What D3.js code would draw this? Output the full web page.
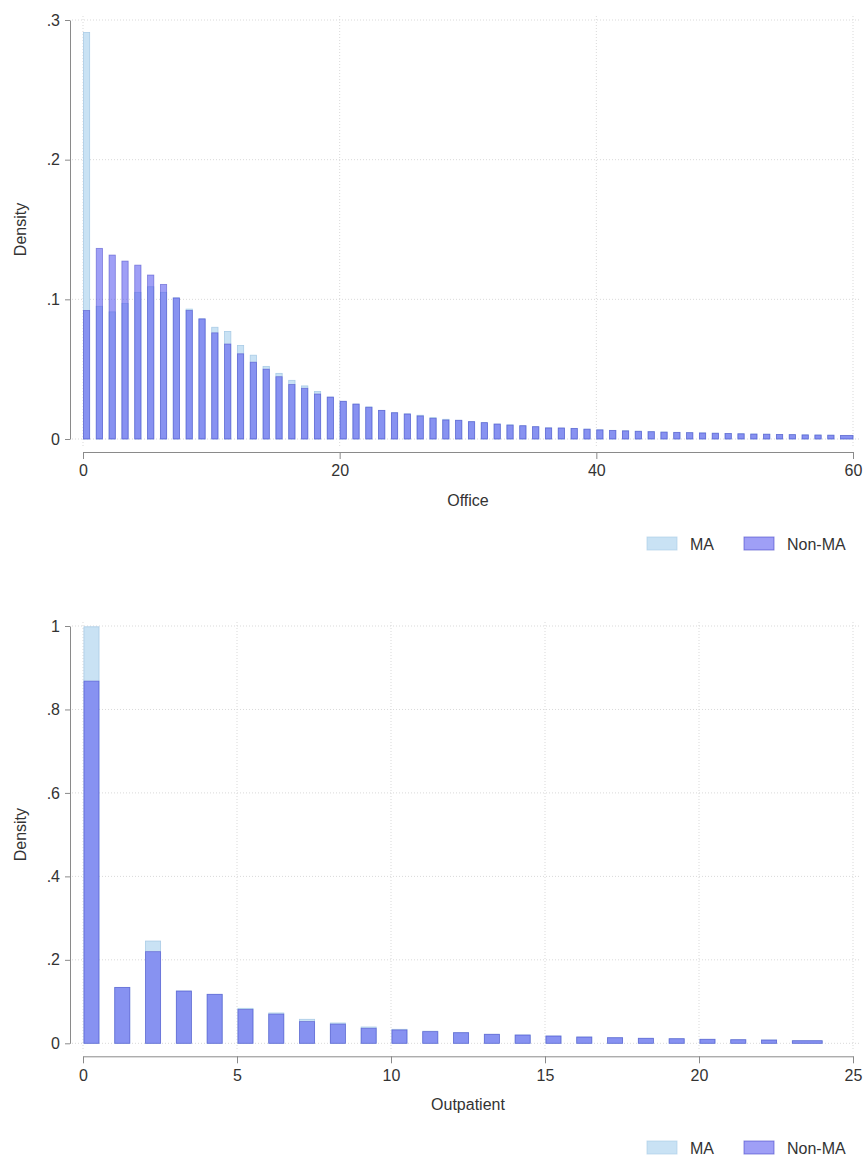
<!DOCTYPE html>
<html>
<head>
<meta charset="utf-8">
<script src="https://cdn.jsdelivr.net/npm/d3@7"></script>
<style>
  body { margin: 0; background: #fff; }
  svg { display: block; font-family: "Liberation Sans", Arial, sans-serif; }
  .grid line { stroke: #d9d9d9; stroke-dasharray: 1,2; }
  .axis path, .axis line { stroke: #8a8a8a; }
  .axis text { fill: #333; font-size: 16px; }
  .title { fill: #333; font-size: 16px; }
</style>
</head>
<body>
<svg id="chart" width="867" height="1161"></svg>
<script>
// Office visits histogram (density per visit count 0..59)
let officeBins = d3.range(0, 60);
let officeMA = [0.291, 0.095, 0.091, 0.097, 0.105, 0.109, 0.105, 0.101, 0.093, 0.086,
  0.080, 0.077, 0.067, 0.060, 0.052, 0.047, 0.042, 0.038, 0.034, 0.030,
  0.027, 0.025, 0.023, 0.0205, 0.0188, 0.018, 0.017, 0.0153, 0.0141, 0.0134,
  0.0124, 0.0117, 0.0107, 0.0102, 0.0095, 0.0088, 0.0080, 0.0078, 0.0076, 0.0071,
  0.0066, 0.0062, 0.0059, 0.0056, 0.0053, 0.0050, 0.0048, 0.0046, 0.0044, 0.0042,
  0.0040, 0.0038, 0.0036, 0.0035, 0.0033, 0.0032, 0.0030, 0.0029, 0.0028, 0.0026];
let officeNonMA = [0.092, 0.1365, 0.1317, 0.1274, 0.1245, 0.1174, 0.1107, 0.101, 0.092, 0.086,
  0.076, 0.068, 0.061, 0.055, 0.050, 0.0446, 0.039, 0.0363, 0.0322, 0.030,
  0.027, 0.025, 0.0227, 0.0205, 0.0188, 0.0179, 0.0165, 0.0148, 0.0136, 0.0134,
  0.0124, 0.0117, 0.0107, 0.0099, 0.0095, 0.0088, 0.0079, 0.0079, 0.0076, 0.0070,
  0.0065, 0.0061, 0.0058, 0.0055, 0.0052, 0.0049, 0.0047, 0.0045, 0.0043, 0.0041,
  0.0039, 0.0037, 0.0035, 0.0034, 0.0032, 0.0031, 0.0029, 0.0028, 0.0027, 0.0025];

// Outpatient visits histogram (0..23)
let outBins = d3.range(0, 24);
let outMA = [0.998, 0.134, 0.245, 0.1253, 0.1174, 0.0838, 0.0726, 0.0575, 0.0486, 0.039,
  0.0335, 0.0290, 0.0254, 0.0216, 0.0199, 0.0175, 0.0151, 0.0134, 0.0120, 0.0110,
  0.0096, 0.0086, 0.0079, 0.0062];
let outNonMA = [0.868, 0.134, 0.2196, 0.1253, 0.1174, 0.081, 0.070, 0.052, 0.046, 0.036,
  0.032, 0.028, 0.0254, 0.0216, 0.0199, 0.0175, 0.0151, 0.0134, 0.0120, 0.0110,
  0.0096, 0.0086, 0.0079, 0.0062];

let officeXTicks = [0, 20, 40, 60];
let officeYTicks = [0, 0.1, 0.2, 0.3];
let outXTicks = [0, 5, 10, 15, 20, 25];
let outYTicks = [0, 0.2, 0.4, 0.6, 0.8, 1];
let legendLabels = ["MA", "Non-MA"];

let maFill = "#c9e2f4", maStroke = "#a9cbe6";
let nonFill = "#5050ee", nonStroke = "#4646c8", nonOpacity = 0.55;

let svg = d3.select("#chart");

let stataFmt = d => d === 0 ? "0" : (d === 1 ? "1" : d3.format(".1f")(d).replace(/^0/, ""));

let drawPanel = function (cfg) {
    let g = svg.append("g");
    let x = d3.scaleLinear().domain(cfg.xDomain).range([83, 853]);
    let y = d3.scaleLinear().domain(cfg.yDomain).range([cfg.y0, cfg.y1]);

    // grid
    let grid = g.append("g").attr("class", "grid");
    grid.selectAll(".h").data(cfg.yTicks).join("line")
        .attr("x1", 72).attr("x2", 860)
        .attr("y1", d => y(d)).attr("y2", d => y(d));
    grid.selectAll(".v").data(cfg.xTicks).join("line")
        .attr("x1", d => x(d)).attr("x2", d => x(d))
        .attr("y1", cfg.y1 - 4).attr("y2", cfg.y0 + 8);

    let last = cfg.bins.length - 1;
    let left = (d, i) => x(d + 0.03);
    let right = (d, i) => i === last ? x(d + 1) : x(d + 0.52);

    // MA bars
    g.append("g").selectAll("rect").data(cfg.bins).join("rect")
        .attr("x", left)
        .attr("width", (d, i) => right(d, i) - left(d, i))
        .attr("y", (d, i) => y(cfg.ma[i]))
        .attr("height", (d, i) => y(0) - y(cfg.ma[i]))
        .attr("fill", maFill).attr("stroke", maStroke).attr("stroke-width", 0.8);

    // Non-MA bars, translucent on top
    g.append("g").selectAll("rect").data(cfg.bins).join("rect")
        .attr("x", left)
        .attr("width", (d, i) => right(d, i) - left(d, i))
        .attr("y", (d, i) => y(cfg.non[i]))
        .attr("height", (d, i) => y(0) - y(cfg.non[i]))
        .attr("fill", nonFill).attr("fill-opacity", nonOpacity)
        .attr("stroke", nonStroke).attr("stroke-opacity", 0.6).attr("stroke-width", 0.8);

    // axes
    g.append("g").attr("class", "axis")
        .attr("transform", "translate(70,0)")
        .call(d3.axisLeft(y).tickValues(cfg.yTicks).tickFormat(stataFmt)
            .tickSize(5).tickSizeOuter(0).tickPadding(5));
    g.append("g").attr("class", "axis")
        .attr("transform", `translate(0,${cfg.y0 + 13})`)
        .call(d3.axisBottom(x).tickValues(cfg.xTicks).tickFormat(d3.format("d"))
            .tickSize(7).tickSizeOuter(0).tickPadding(6));

    g.append("text").attr("class", "title")
        .attr("transform", `translate(26,${(cfg.y0 + cfg.y1) / 2}) rotate(-90)`)
        .attr("text-anchor", "middle").text("Density");
    g.append("text").attr("class", "title")
        .attr("x", 468).attr("y", cfg.y0 + 67)
        .attr("text-anchor", "middle").text(cfg.xLabel);

    // legend
    let leg = g.append("g").attr("transform", `translate(0,${cfg.legendY})`);
    let items = [
        { label: legendLabels[0], x: 647, fill: maFill, stroke: maStroke, op: 1 },
        { label: legendLabels[1], x: 744, fill: nonFill, stroke: nonStroke, op: nonOpacity }
    ];
    items.forEach(function (it) {
        leg.append("rect").attr("x", it.x).attr("y", -7).attr("width", 30).attr("height", 13)
            .attr("fill", it.fill).attr("fill-opacity", it.op)
            .attr("stroke", it.stroke).attr("stroke-opacity", 0.6);
        leg.append("text").attr("class", "title")
            .attr("x", it.x + 43).attr("y", 6).text(it.label);
    });
};

drawPanel({
    bins: officeBins, ma: officeMA, non: officeNonMA,
    xDomain: [0, 60], yDomain: [0, 0.3], y0: 439, y1: 20,
    xTicks: officeXTicks, yTicks: officeYTicks, xLabel: "Office", legendY: 544
});

drawPanel({
    bins: outBins, ma: outMA, non: outNonMA,
    xDomain: [0, 25], yDomain: [0, 1], y0: 1043.3, y1: 626,
    xTicks: outXTicks, yTicks: outYTicks, xLabel: "Outpatient", legendY: 1148
});
</script>
</body>
</html>
